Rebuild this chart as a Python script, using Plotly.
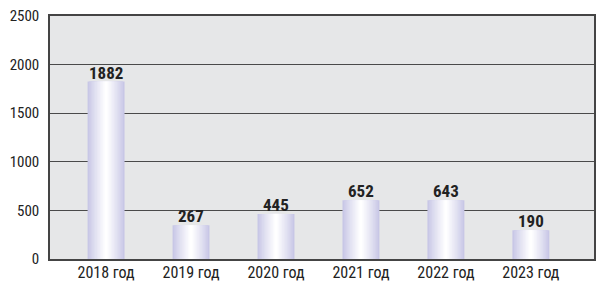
import plotly.graph_objects as go

# Data
categories = ["2018 год", "2019 год", "2020 год", "2021 год", "2022 год", "2023 год"]
label_values = [1882, 267, 445, 652, 643, 190]          # printed numbers
bar_heights = [1825, 347, 464, 604, 604, 296]             # drawn bar heights (as in picture)
y_ticks = [0, 500, 1000, 1500, 2000, 2500]

FONT = "Liberation Sans Narrow, Arial Narrow, Roboto Condensed, Liberation Sans, Arial, sans-serif"

edge = (200, 199, 230)
center = (255, 255, 255)
n_layers = 12
full_w = 0.435

fig = go.Figure()
for k in range(n_layers):
    t = k / (n_layers - 1)
    t = t ** 0.9
    c = tuple(round(edge[i] + (center[i] - edge[i]) * t) for i in range(3))
    w = full_w * (1 - k / n_layers)
    fig.add_trace(go.Bar(
        x=categories, y=bar_heights,
        width=w,
        marker=dict(color=f"rgb{c}", line=dict(width=0)),
        showlegend=False,
        hoverinfo="skip",
    ))

for cat, h, v in zip(categories, bar_heights, label_values):
    fig.add_annotation(
        x=cat, y=h, text=str(v), showarrow=False,
        yanchor="middle", yshift=9,
        font=dict(family=FONT, size=17, color="#222", weight="bold"),
    )

fig.update_layout(
    width=600, height=281,
    margin=dict(l=50, r=6, t=16, b=22, autoexpand=False),
    paper_bgcolor="white",
    plot_bgcolor="#e6e7e8",
    barmode="overlay",
    font=dict(family=FONT, size=15, color="#222"),
)
fig.update_xaxes(
    range=[-0.66, 5.743],
    automargin=False,
    showgrid=False,
    showline=True, linecolor="#444", linewidth=1.5, mirror=True,
    ticks="", ticklabelstandoff=-2,
    tickfont=dict(family=FONT, size=16, color="#222"),
)
fig.update_yaxes(
    range=[0, 2500],
    automargin=False,
    tickvals=y_ticks,
    showgrid=True, gridcolor="#4a4a4a", gridwidth=1,
    showline=True, linecolor="#444", linewidth=1.5, mirror=True,
    ticks="", ticklabelstandoff=6,
    tickfont=dict(family=FONT, size=15, color="#222"),
    zeroline=False,
)

fig.write_html(
    "out.html",
    config={"displayModeBar": False},
    post_script="document.body.style.margin='0';document.body.style.overflow='hidden';",
)
